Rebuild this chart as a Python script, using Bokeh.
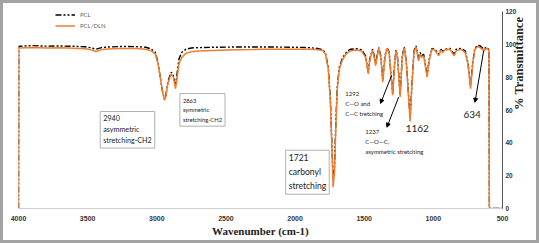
import math
from bokeh.plotting import figure
from bokeh.layouts import column
from bokeh.models import Label, Arrow, NormalHead, Legend, LegendItem, Range1d, FixedTicker, ColumnDataSource
from bokeh.embed import file_html
from bokeh.resources import INLINE

# ---------------- data ----------------
wavenumber = [4000, 3998, 3900, 3800, 3700, 3600, 3520, 3480, 3440, 3400, 3350, 3250, 3150, 3080,
              3040, 3010, 2990, 2975, 2960, 2945, 2935, 2920, 2905, 2895, 2880, 2865, 2855, 2840,
              2820, 2790, 2750, 2700, 2600, 2500, 2400, 2300, 2200, 2100, 2000, 1900, 1850, 1800,
              1780, 1760, 1745, 1735, 1725, 1715, 1705, 1695, 1680, 1660, 1640, 1620, 1600, 1560,
              1520, 1490, 1471, 1460, 1440, 1430, 1418, 1405, 1395, 1380, 1366, 1350, 1335, 1320,
              1294, 1280, 1270, 1260, 1240, 1225, 1210, 1195, 1168, 1155, 1140, 1125, 1107, 1095,
              1085, 1070, 1045, 1030, 1010, 990, 961, 945, 933, 915, 880, 850, 835, 800, 770, 750,
              731, 715, 700, 680, 660, 640, 634, 625, 610, 598, 595, 500]

pcl_dln = [0, 97.8, 98.0, 97.8, 97.9, 97.6, 97.3, 96.8, 95.6, 96.8, 97.2, 97.5, 97.4, 97.0,
           96.0, 94.0, 88.0, 80.0, 72.0, 66.0, 68.0, 76.0, 80.0, 82.0, 80.0, 73.0, 78.0, 88.0,
           92.0, 94.5, 95.5, 96.0, 96.3, 96.5, 96.7, 96.8, 97.0, 97.0, 97.0, 97.0, 96.8, 96.2,
           94.0, 85.0, 65.0, 40.0, 13.0, 22.0, 50.0, 72.0, 85.0, 90.0, 93.0, 95.0, 96.0, 96.5,
           96.0, 92.0, 82.0, 90.0, 96.5, 93.0, 87.0, 93.0, 97.5, 92.0, 77.0, 92.0, 97.5, 95.0,
           69.0, 88.0, 96.0, 92.0, 68.0, 92.0, 98.0, 88.0, 53.0, 75.0, 95.0, 98.5, 90.0, 94.0,
           92.0, 93.0, 80.0, 90.0, 97.0, 96.5, 93.0, 96.5, 95.0, 96.5, 97.0, 93.0, 96.0, 97.0,
           95.0, 88.0, 73.0, 88.0, 97.0, 98.5, 98.0, 96.5, 96.0, 97.0, 97.5, 96.0, 0, 0]

pcl = [0, 98.8, 99.2, 98.9, 99.0, 98.8, 98.5, 98.0, 97.0, 98.0, 98.4, 98.7, 98.6, 98.2,
       97.2, 95.0, 88.5, 80.0, 72.0, 66.5, 68.5, 77.0, 81.0, 83.0, 81.0, 75.0, 81.0, 91.0,
       95.0, 97.0, 97.8, 98.0, 98.2, 98.3, 98.4, 98.4, 98.4, 98.3, 98.2, 98.0, 97.6, 96.8,
       94.5, 86.0, 67.0, 43.0, 17.0, 25.0, 53.0, 74.0, 86.0, 91.0, 94.0, 96.0, 97.0, 97.3,
       96.8, 93.0, 83.0, 91.0, 97.0, 94.0, 88.0, 94.0, 98.0, 93.0, 78.0, 93.0, 98.0, 95.5,
       70.0, 89.0, 96.5, 93.0, 69.0, 93.0, 98.5, 89.0, 55.0, 76.0, 96.0, 99.0, 91.0, 95.0,
       93.0, 94.0, 81.0, 91.0, 97.5, 97.0, 94.0, 97.0, 96.0, 97.0, 97.5, 94.0, 97.0, 97.5,
       96.0, 89.0, 75.0, 89.0, 97.5, 99.5, 99.0, 97.5, 97.0, 97.8, 98.0, 96.5, 0, 0]

x_ticks = [4000, 3500, 3000, 2500, 2000, 1500, 1000, 500]
y_ticks = [0, 20, 40, 60, 80, 100, 120]
series_names = ["PCL", "PCL/DLN"]
x_title = "Wavenumber (cm-1)"
y_title = "% Transmittance"

# ---------------- figure ----------------
p = figure(width=533, height=237, output_backend="svg", toolbar_location=None,
           x_range=Range1d(4000, 500), y_range=Range1d(0, 120),
           y_axis_location="right", min_border_left=15, min_border_top=8,
           min_border_right=0, min_border_bottom=32)
p.outline_line_color = None
p.xgrid.grid_line_color = None
p.ygrid.grid_line_color = None
p.background_fill_color = "white"
p.border_fill_color = "white"

src = ColumnDataSource(dict(wn=wavenumber, pcl=pcl, dln=pcl_dln))
r_pcl = p.line("wn", "pcl", source=src, line_color="black", line_width=1.4, line_dash="6 2 2 2 2 2")
r_dln = p.line("wn", "dln", source=src, line_color="#ED7D31", line_width=1.5)

for ax in (p.xaxis[0], p.yaxis[0]):
    ax.major_tick_line_color = None
    ax.minor_tick_line_color = None
    ax.major_tick_out = 0
    ax.major_tick_in = 0
    ax.minor_tick_out = 0
    ax.minor_tick_in = 0
    ax.major_label_text_font = "Liberation Sans"
    ax.major_label_text_font_style = "bold"
    ax.major_label_text_color = "#333333"
    ax.axis_label_text_font = "Liberation Serif"
    ax.axis_label_text_font_style = "bold"
    ax.axis_label_text_color = "#222222"

xa = p.xaxis[0]
xa.ticker = FixedTicker(ticks=x_ticks)
xa.axis_line_color = "#cfcfcf"
xa.major_label_text_font_size = "7px"
xa.major_label_standoff = 7
xa.axis_label = x_title
xa.axis_label_text_font_size = "11px"
xa.axis_label_standoff = 1

ya = p.yaxis[0]
ya.ticker = FixedTicker(ticks=y_ticks)
ya.axis_line_color = "#555555"
ya.major_label_text_font_size = "6.5px"
ya.major_label_standoff = 3
ya.axis_label = y_title
ya.axis_label_text_font_size = "12.5px"
ya.axis_label_standoff = 0
if "axis_label_orientation" in ya.properties():
    ya.axis_label_orientation = math.pi / 2

# legend
legend = Legend(items=[LegendItem(label=series_names[0], renderers=[r_pcl]),
                       LegendItem(label=series_names[1], renderers=[r_dln])],
                location=(37, 178), orientation="vertical",
                label_text_font="Lato", label_text_font_size="6px", label_text_color="#666666",
                glyph_width=20, glyph_height=9, label_height=9, spacing=2,
                padding=0, margin=0, border_line_color=None, background_fill_alpha=0)
p.add_layout(legend)

# ---------------- annotations ----------------
box_style = dict(text_font="Lato", text_align="left", text_baseline="top",
                 border_line_color="#b0b0b0", border_line_width=1,
                 background_fill_color="white", padding=3, text_color="#222222")

p.add_layout(Label(x=3409, y=59.1, text="2940\nasymmetric\nstretching-CH2",
                   text_font_size="7.2px", text_line_height=1.2, **box_style))
p.add_layout(Label(x=2833, y=70.0, text="2863\nsymmetric\nstretching-CH2",
                   text_font_size="5.8px", text_line_height=1.4, **box_style))
p.add_layout(Label(x=2068, y=35.5, text="1721\ncarbonyl\nstretching",
                   text_font_size="8.6px", text_line_height=1.4, **box_style))

plain = dict(text_font="Lato", text_align="left", text_baseline="top", text_color="#222222")
p.add_layout(Label(x=1637, y=72.0, text="1292\nC\u2014O and\n C\u2014C tretching",
                   text_font_size="6px", text_line_height=1.4, **plain))
p.add_layout(Label(x=1492, y=49.0, text="1237\nC\u2014O\u2014C,\nasymmetric stretching",
                   text_font_size="6px", text_line_height=1.4, **plain))
p.add_layout(Label(x=1116, y=48.9, text="1162", text_font="Lato", text_font_size="10px",
                   text_align="center", text_baseline="middle", text_color="#222222"))
p.add_layout(Label(x=719, y=57.3, text="634", text_font="Lato", text_font_size="10px",
                   text_align="center", text_baseline="middle", text_color="#222222"))

for (x0, y0, x1, y1) in [(1302, 81.0, 1382, 64.0), (1251, 67.8, 1336, 49.5), (636, 96.2, 699, 64.7)]:
    p.add_layout(Arrow(end=NormalHead(size=4, fill_color="black", line_color="black"),
                       x_start=x0, y_start=y0, x_end=x1, y_end=y1,
                       line_color="black", line_width=1))

page = column(p, styles={"border": "3px solid #a3a3a3"})
open("out.html", "w").write(file_html(page, INLINE))
